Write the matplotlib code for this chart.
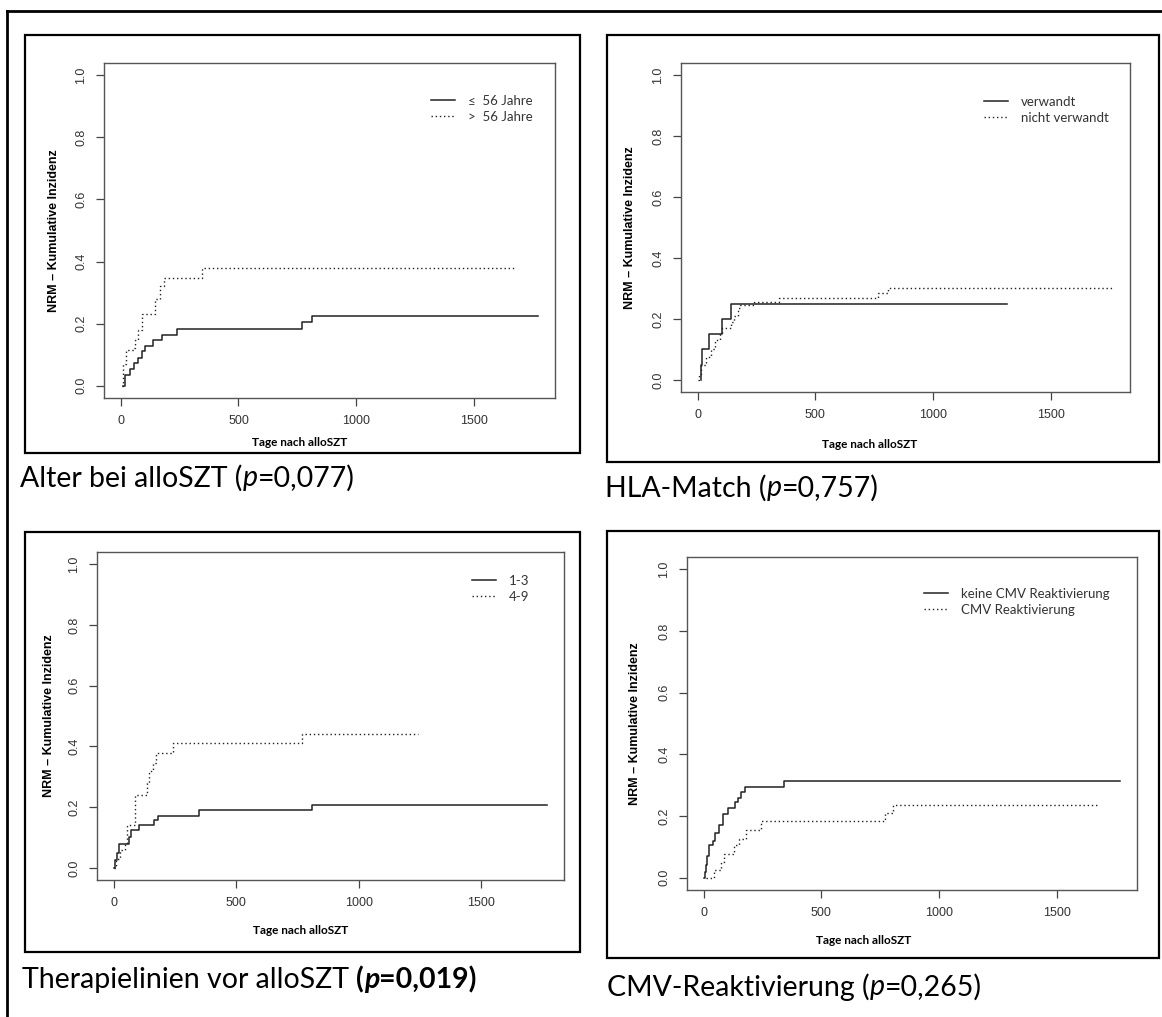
import matplotlib
matplotlib.use("Agg")
import matplotlib.pyplot as plt
from matplotlib.patches import Rectangle
from matplotlib.lines import Line2D

W, H = 1162, 1017

# ---- data (step points) ----
# Alter bei alloSZT
p1_solid_t = [10, 18, 38, 56, 74, 92, 104, 135, 177, 241, 769, 811, 1773]
p1_solid_y = [0, 0.035, 0.055, 0.073, 0.09, 0.11, 0.128, 0.146, 0.164, 0.182, 0.204, 0.225, 0.225]
p1_dot_t = [5, 10, 23, 55, 62, 72, 89, 144, 165, 185, 345, 1671]
p1_dot_y = [0, 0.07, 0.115, 0.12, 0.146, 0.18, 0.23, 0.28, 0.32, 0.348, 0.378, 0.378]
p1_labels = ["\u2264  56 Jahre", ">  56 Jahre"]

# HLA-Match
p2_solid_t = [15, 15, 20, 50, 104, 142, 1315]
p2_solid_y = [0, 0.05, 0.10, 0.15, 0.20, 0.25, 0.25]
p2_dot_t = [0, 5, 15, 35, 55, 75, 95, 105, 140, 155, 170, 180, 240, 345, 765, 810, 1765]
p2_dot_y = [0, 0.02, 0.05, 0.075, 0.10, 0.13, 0.155, 0.17, 0.19, 0.21, 0.235, 0.245,
            0.255, 0.27, 0.285, 0.30, 0.30]
p2_labels = ["verwandt", "nicht verwandt"]

# Therapielinien vor alloSZT
p3_solid_t = [0, 4, 10, 19, 59, 70, 100, 161, 179, 345, 809, 1770]
p3_solid_y = [0, 0.027, 0.05, 0.077, 0.10, 0.126, 0.142, 0.159, 0.172, 0.19, 0.208, 0.208]
p3_dot_t = [0, 7, 22, 44, 54, 84, 132, 142, 157, 172, 242, 770, 1242]
p3_dot_y = [0, 0.03, 0.06, 0.08, 0.142, 0.24, 0.28, 0.318, 0.345, 0.378, 0.41, 0.44, 0.44]
p3_labels = ["1-3", "4-9"]

# CMV-Reaktivierung
p4_solid_t = [0, 5, 10, 16, 23, 38, 50, 63, 83, 103, 133, 144, 159, 174, 343, 1769]
p4_solid_y = [0, 0.018, 0.04, 0.07, 0.105, 0.12, 0.145, 0.17, 0.205, 0.225, 0.245,
              0.26, 0.277, 0.294, 0.312, 0.312]
p4_dot_t = [10, 42, 72, 88, 128, 148, 178, 242, 768, 804, 1671]
p4_dot_y = [0, 0.024, 0.05, 0.078, 0.105, 0.127, 0.155, 0.184, 0.209, 0.236, 0.236]
p4_labels = ["keine CMV Reaktivierung", "CMV Reaktivierung"]

ylabel = "NRM \u2013 Kumulative Inzidenz"
xlabel = "Tage nach alloSZT"

LEG_FONT = ["Lato", "DejaVu Sans"]
CAP_FONT = ["Lato", "DejaVu Sans"]
TICK_FONT = "Liberation Sans"

fig = plt.figure(figsize=(W / 100, H / 100), dpi=100)


def fx(x):
    return x / W


def fy(y):
    return 1 - y / H


def frame(x0, x1, y0, y1):
    fig.add_artist(Rectangle((fx(x0), fy(y1)), (x1 - x0) / W, (y1 - y0) / H,
                             transform=fig.transFigure, fill=False,
                             edgecolor="black", lw=1.6))


def panel(box, st, sy, dt, dy, labels, leg_xy, ylab_x, xlab_xy):
    x0, x1, yt, yb = box
    ax = fig.add_axes([fx(x0), fy(yb), (x1 - x0) / W, (yb - yt) / H])
    ax.step(st, sy, where="post", color="#222222", lw=1.1, label=labels[0])
    ax.step(dt, dy, where="post", color="#222222", lw=1.0,
            linestyle=(0, (1, 2)), label=labels[1])
    tmax = max(st[-1], dt[-1])
    ax.set_xlim(-0.04 * tmax, tmax * 1.04)
    ax.set_ylim(-0.04, 1.04)
    ax.set_xticks([0, 500, 1000, 1500])
    ax.set_yticks([0, 0.2, 0.4, 0.6, 0.8, 1.0])
    ax.set_yticklabels(["0.0", "0.2", "0.4", "0.6", "0.8", "1.0"])
    for s in ax.spines.values():
        s.set_color("#555555")
        s.set_linewidth(1.0)
    ax.tick_params(direction="out", length=6, width=0.9, color="#444444",
                   labelsize=9, labelcolor="#333333", pad=6)
    for lab in ax.get_xticklabels() + ax.get_yticklabels():
        lab.set_family(TICK_FONT)
    for lab in ax.get_yticklabels():
        lab.set_rotation(90)
        lab.set_va("center")
    leg = ax.legend(loc="upper left", frameon=False,
                    prop={"family": LEG_FONT, "size": 9.5},
                    handlelength=1.8, handletextpad=1.0, labelspacing=0.3,
                    borderpad=0, borderaxespad=0,
                    bbox_to_anchor=(fx(leg_xy[0]), fy(leg_xy[1])),
                    bbox_transform=fig.transFigure)
    for t in leg.get_texts():
        t.set_color("#333333")
    fig.text(fx(ylab_x), fy((yt + yb) / 2), ylabel, rotation=90, ha="center",
             va="center", fontsize=9, weight="bold", family=TICK_FONT)
    fig.text(fx(xlab_xy[0]), fy(xlab_xy[1]), xlabel, ha="center", va="center",
             fontsize=8.5, weight="bold", family=CAP_FONT)
    return ax


def caption(x, y, parts):
    r = fig.canvas.get_renderer()
    for s, w, st in parts:
        t = fig.text(fx(x), fy(y), s, fontsize=20.5, weight=w, style=st,
                     family=CAP_FONT, ha="left", va="center")
        x += t.get_window_extent(renderer=r).width


# outer border (left and top only)
fig.add_artist(Line2D([fx(7), fx(7)], [0, fy(11)], transform=fig.transFigure,
                      color="black", lw=2))
fig.add_artist(Line2D([fx(7), 1], [fy(11), fy(11)], transform=fig.transFigure,
                      color="black", lw=2))

frame(25, 580, 35, 453)
frame(607, 1159, 35, 462)
frame(25, 580, 532, 952)
frame(607, 1159, 531, 958)

panel((104, 555, 63, 398), p1_solid_t, p1_solid_y, p1_dot_t, p1_dot_y, p1_labels,
      (431, 95), 54, (300, 442))
panel((681, 1130, 63, 392), p2_solid_t, p2_solid_y, p2_dot_t, p2_dot_y, p2_labels,
      (984, 96), 630, (870, 445))
panel((97, 564, 552, 880), p3_solid_t, p3_solid_y, p3_dot_t, p3_dot_y, p3_labels,
      (472, 575), 49, (301, 930))
panel((687, 1137, 557, 890), p4_solid_t, p4_solid_y, p4_dot_t, p4_dot_y, p4_labels,
      (924, 588), 635, (864, 940))

caption(20, 478, [("Alter bei alloSZT (", "normal", "normal"),
                  ("p", "normal", "italic"),
                  ("=0,077)", "normal", "normal")])
caption(605, 488, [("HLA-Match (", "normal", "normal"),
                   ("p", "normal", "italic"),
                   ("=0,757)", "normal", "normal")])
caption(22, 980, [("Therapielinien vor alloSZT ", "normal", "normal"),
                  ("(", "bold", "normal"),
                  ("p", "bold", "italic"),
                  ("=0,019)", "bold", "normal")])
caption(607, 987, [("CMV-Reaktivierung (", "normal", "normal"),
                   ("p", "normal", "italic"),
                   ("=0,265)", "normal", "normal")])

fig.savefig("out.png", dpi=100)
